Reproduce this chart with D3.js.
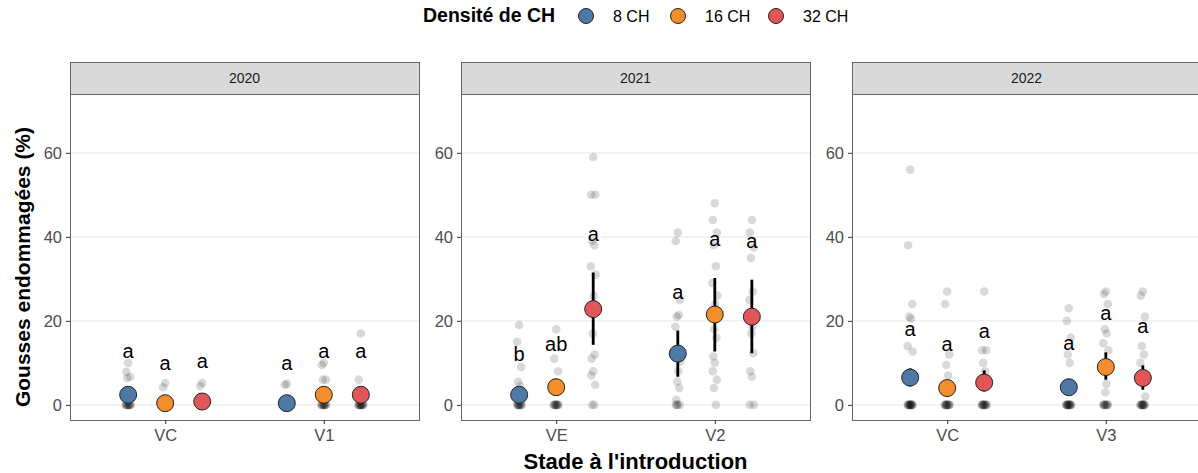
<!DOCTYPE html>
<html>
<head>
<meta charset="utf-8">
<script src="https://cdn.jsdelivr.net/npm/d3@7"></script>
<style>
  body { margin: 0; background: #fff; }
  text { font-family: "Liberation Sans", Arial, sans-serif; }
</style>
</head>
<body>
<script>
// ---- data ----
let years = ["2020", "2021", "2022"];
let stages = [["VC", "V1"], ["VE", "V2"], ["VC", "V3"]];
let densities = ["8 CH", "16 CH", "32 CH"];
let colors = ["#4E79A7", "#F28E2B", "#E15759"];

// means [panel][stage][density]
let means = [
	[[2.4, 0.4, 0.8], [0.4, 2.4, 2.4]],
	[[2.4, 4.2, 22.8], [12.2, 21.5, 21.0]],
	[[6.5, 4.0, 5.3], [4.2, 9.0, 6.4]]
];
// error bar lower / upper ends
let lower = [
	[[1.4, 0.2, 0.5], [0.2, 1.4, 1.4]],
	[[1.4, 3.3, 14.3], [6.7, 12.7, 12.3]],
	[[4.4, 2.9, 3.2], [2.9, 6.0, 3.6]]
];
let upper = [
	[[3.6, 0.6, 1.1], [0.6, 3.5, 3.5]],
	[[2.8, 5.1, 31.5], [17.7, 30.2, 29.8]],
	[[8.7, 5.1, 8.2], [5.5, 12.5, 9.4]]
];
// compact letter display
let letters = [
	[["a", "a", "a"], ["a", "a", "a"]],
	[["b", "ab", "a"], ["a", "a", "a"]],
	[["a", "a", "a"], ["a", "a", "a"]]
];
// raw observations
let raw = [
	[
		[[10, 7.9, 6.7, 6.4, 3, 0, 0, 0, 0, 0, 0, 0, 0, 0],
		 [5.2, 4.2, 0, 0, 0, 0, 0, 0, 0, 0, 0, 0, 0, 0, 0],
		 [5.2, 4.5, 0, 0, 0, 0, 0, 0, 0, 0, 0, 0]],
		[[5, 4.8, 0, 0, 0, 0, 0, 0, 0, 0, 0, 0, 0, 0],
		 [10, 9.5, 6, 6, 0, 0, 0, 0, 0, 0, 0, 0, 0],
		 [17, 6, 0, 0, 0, 0, 0, 0, 0, 0, 0, 0, 0]]
	],
	[
		[[19, 15, 9, 5.5, 4.5, 3, 0, 0, 0, 0, 0, 0, 0, 0, 0],
		 [18, 11, 8, 5.5, 0, 0, 0, 0, 0, 0, 0, 0, 0],
		 [59, 50, 50, 39, 38, 33, 31, 26, 17, 12, 11, 8, 7, 4.8, 0, 0]],
		[[41, 39, 25, 21, 21.4, 18.6, 10.3, 8, 5.5, 4, 1.2, 0, 0, 0, 0],
		 [48, 44, 41, 38, 33, 29, 26, 24, 18, 16, 11.5, 10, 8, 6, 4, 0],
		 [44, 41, 37.5, 35, 27, 25, 21.4, 18.6, 17, 12.3, 8, 6.7, 0, 0]]
	],
	[
		[[56, 38, 24, 21, 20.5, 14, 12.7, 0, 0, 0, 0, 0, 0, 0, 0, 0, 0, 0, 0],
		 [27, 24, 12, 9.5, 7, 0, 0, 0, 0, 0, 0, 0, 0, 0, 0],
		 [27, 13, 13, 10, 8, 0, 0, 0, 0, 0, 0, 0, 0, 0, 0]],
		[[23, 20, 16, 12, 10, 0, 0, 0, 0, 0, 0, 0, 0, 0, 0, 0, 0],
		 [27, 26.4, 24, 18, 17, 14.7, 13, 5, 3, 0, 0, 0, 0, 0, 0, 0, 0],
		 [27, 26, 21, 14, 12, 10, 2, 0, 0, 0, 0, 0, 0, 0, 0, 0, 0]]
	]
];
let yTicks = [0, 20, 40, 60];

// ---- layout ----
let W = 1198, H = 473;
let panelX = [70, 461, 852];
let panelW = 349;
let stripTop = 62, panelTop = 94, panelBottom = 420;
let jitter = [0, -2, 2, -1, 1, -2.5, 2.5, 0.5, -0.5, 1.5, -1.5];

let svg = d3.select("body").append("svg")
	.attr("width", W)
	.attr("height", H);

let yScale = d3.scaleLinear().domain([-3.6, 74]).range([panelBottom, panelTop]);

years.forEach(function(year, p) {
	let x0 = panelX[p];
	let xScale = d3.scalePoint().domain(stages[p]).range([x0, x0 + panelW]).padding(0.6);
	let step = xScale.step();
	let dodge = d3.scaleBand().domain(densities).range([-0.35 * step, 0.35 * step]);
	let xPos = function(s, k) { return xScale(stages[p][s]) + dodge(densities[k]) + dodge.bandwidth() / 2; };

	let g = svg.append("g");

	// strip
	g.append("rect")
		.attr("x", x0).attr("y", stripTop)
		.attr("width", panelW).attr("height", panelTop - stripTop)
		.attr("fill", "#d9d9d9").attr("stroke", "#666").attr("shape-rendering", "crispEdges");
	g.append("text")
		.attr("x", x0 + panelW / 2).attr("y", (stripTop + panelTop) / 2 + 5)
		.attr("text-anchor", "middle")
		.attr("font-size", 14).attr("fill", "#1a1a1a")
		.text(year);

	// grid
	g.selectAll(".grid").data(yTicks).enter().append("line")
		.attr("x1", x0).attr("x2", x0 + panelW)
		.attr("y1", function(d) { return yScale(d); })
		.attr("y2", function(d) { return yScale(d); })
		.attr("stroke", "#ebebeb").attr("stroke-width", 1.2);

	// raw points
	stages[p].forEach(function(st, s) {
		densities.forEach(function(dn, k) {
			g.selectAll(null).data(raw[p][s][k]).enter().append("circle")
				.attr("cx", function(d, i) { return xPos(s, k) + jitter[i % jitter.length]; })
				.attr("cy", function(d) { return yScale(d); })
				.attr("r", 4.3)
				.attr("fill", "#000").attr("fill-opacity", 0.15);
		});
	});

	// error bars, means, letters
	stages[p].forEach(function(st, s) {
		densities.forEach(function(dn, k) {
			let cx = xPos(s, k);
			g.append("line")
				.attr("x1", cx).attr("x2", cx)
				.attr("y1", yScale(lower[p][s][k]))
				.attr("y2", yScale(upper[p][s][k]))
				.attr("stroke", "#000").attr("stroke-width", 2.8);
			g.append("circle")
				.attr("cx", cx).attr("cy", yScale(means[p][s][k]))
				.attr("r", 8.5)
				.attr("fill", colors[k]).attr("stroke", "#222").attr("stroke-width", 1);
			g.append("text")
				.attr("x", cx).attr("y", yScale(upper[p][s][k]) - 32)
				.attr("text-anchor", "middle")
				.attr("font-size", 20).attr("fill", "#000")
				.text(letters[p][s][k]);
		});
	});

	// panel border
	g.append("rect")
		.attr("x", x0).attr("y", panelTop)
		.attr("width", panelW).attr("height", panelBottom - panelTop)
		.attr("fill", "none").attr("stroke", "#666").attr("shape-rendering", "crispEdges");

	// axes
	let yAxis = g.append("g")
		.attr("transform", "translate(" + x0 + ",0)")
		.call(d3.axisLeft(yScale).tickValues(yTicks).tickSize(4).tickPadding(4));
	let xAxis = g.append("g")
		.attr("transform", "translate(0," + panelBottom + ")")
		.call(d3.axisBottom(xScale).tickSize(4).tickPadding(5));
	[yAxis, xAxis].forEach(function(a) {
		a.select(".domain").remove();
		a.selectAll(".tick line").attr("stroke", "#333");
		a.selectAll(".tick text").attr("fill", "#4d4d4d").attr("font-size", 16.5)
			.attr("font-family", "Liberation Sans, Arial, sans-serif");
	});
});

// axis titles
svg.append("text")
	.attr("x", (panelX[0] + panelX[2] + panelW) / 2).attr("y", 469)
	.attr("text-anchor", "middle")
	.attr("font-size", 22).attr("font-weight", "bold")
	.text("Stade à l'introduction");

svg.append("text")
	.attr("transform", "translate(30,267) rotate(-90)")
	.attr("text-anchor", "middle")
	.attr("font-size", 21).attr("font-weight", "bold")
	.text("Gousses endommagées (%)");

// legend
let legend = svg.append("g");
legend.append("text")
	.attr("x", 423).attr("y", 22)
	.attr("font-size", 19.5).attr("font-weight", "bold")
	.text("Densité de CH");
let legendX = [586, 678, 776];
densities.forEach(function(dn, k) {
	legend.append("circle")
		.attr("cx", legendX[k]).attr("cy", 16).attr("r", 7.5)
		.attr("fill", colors[k]).attr("stroke", "#222").attr("stroke-width", 1);
	legend.append("text")
		.attr("x", legendX[k] + 27).attr("y", 22)
		.attr("font-size", 16)
		.text(dn);
});
</script>
</body>
</html>
